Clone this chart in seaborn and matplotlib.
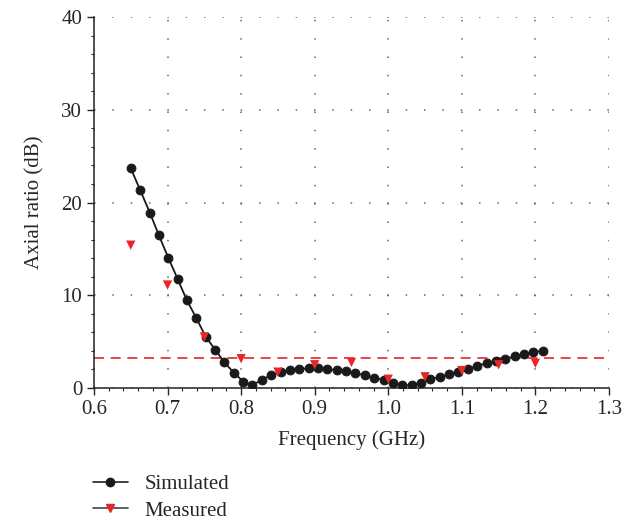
import numpy as np
import pandas as pd
import matplotlib
matplotlib.use("Agg")
import matplotlib.pyplot as plt
from matplotlib.lines import Line2D
from matplotlib.ticker import MultipleLocator
import seaborn as sns

# simulated axial ratio
sim_freq = [0.650, 0.663, 0.676, 0.688, 0.701, 0.714, 0.726, 0.739, 0.752, 0.765,
            0.777, 0.790, 0.803, 0.815, 0.828, 0.841, 0.854, 0.866, 0.879, 0.892,
            0.905, 0.917, 0.930, 0.943, 0.955, 0.968, 0.981, 0.994, 1.006, 1.019,
            1.032, 1.044, 1.057, 1.070, 1.083, 1.095, 1.108, 1.121, 1.134, 1.146,
            1.159, 1.172, 1.185, 1.197, 1.210]
sim_ar = [23.7, 21.3, 18.9, 16.5, 14.05, 11.7, 9.5, 7.55, 5.5, 4.1,
          2.77, 1.65, 0.68, 0.29, 0.86, 1.4, 1.7, 1.94, 2.05, 2.1,
          2.1, 2.05, 1.9, 1.8, 1.58, 1.37, 1.11, 0.86, 0.54, 0.29,
          0.29, 0.57, 0.97, 1.17, 1.48, 1.76, 2.0, 2.4, 2.66, 2.9,
          3.16, 3.4, 3.67, 3.85, 4.0]

# measured axial ratio
meas_freq = [0.65, 0.70, 0.75, 0.80, 0.85, 0.90, 0.95, 1.00, 1.05, 1.10, 1.15, 1.20]
meas_ar = [15.4, 11.1, 5.5, 3.15, 1.7, 2.5, 2.75, 0.94, 1.2, 1.87, 2.5, 2.66]

threshold = 3.2

sim = pd.DataFrame({"freq": sim_freq, "ar": sim_ar})
meas = pd.DataFrame({"freq": meas_freq, "ar": meas_ar})

sns.set_style("ticks")
plt.rcParams["font.family"] = ["Liberation Serif", "DejaVu Serif"]
plt.rcParams["font.size"] = 15

red = "#e8262a"

fig = plt.figure(figsize=(6.35, 5.2), dpi=100)
ax = fig.add_axes([0.148, 0.254, 0.811, 0.713])

sns.lineplot(data=sim, x="freq", y="ar", ax=ax, color="#1a1a1a", lw=1.3,
             marker="o", markersize=6.3, markeredgecolor="#1a1a1a", zorder=3)
sns.scatterplot(data=meas, x="freq", y="ar", ax=ax, color=red, marker="v",
                s=45, edgecolor="none", zorder=4)
ax.axhline(threshold, color=red, ls=(0, (6, 4)), lw=1.2, zorder=2)

ax.set_xlim(0.6, 1.3)
ax.set_ylim(0, 40)
ax.set_xticks(np.arange(0.6, 1.31, 0.1))
ax.set_xticklabels(["0.6", "0.7", "0.8", "0.9", "1.0", "1.1", "1.2", "1.3"])
ax.set_yticks([0, 10, 20, 30, 40])
ax.xaxis.set_minor_locator(MultipleLocator(0.02))
ax.yaxis.set_minor_locator(MultipleLocator(2))
ax.tick_params(which="major", direction="out", length=5, width=1, labelsize=15)
ax.tick_params(which="minor", direction="out", length=2.5, width=0.8)
ax.grid(True, which="major", color="#666666", ls=(0, (1, 11)), lw=1.1)
ax.set_axisbelow(True)

for s in ["top", "right"]:
    ax.spines[s].set_visible(False)
for s in ["left", "bottom"]:
    ax.spines[s].set_color("#222222")
    ax.spines[s].set_linewidth(1.1)

ax.set_xlabel("Frequency (GHz)", fontsize=15, labelpad=8)
ax.set_ylabel("Axial ratio (dB)", fontsize=15, labelpad=12)

handles = [
    Line2D([], [], color="#222222", lw=1.2, marker="o", markersize=6,
           markerfacecolor="#1a1a1a", markeredgecolor="#1a1a1a"),
    Line2D([], [], color="#444444", lw=1.2, marker="v", markersize=6,
           markerfacecolor=red, markeredgecolor=red),
]
fig.legend(handles, ["Simulated", "Measured"], loc="upper left",
           bbox_to_anchor=(0.133, 0.104), frameon=False, fontsize=15,
           handlelength=1.7, labelspacing=0.35, handletextpad=0.8,
           borderaxespad=0)

fig.savefig("out.png", dpi=100)
